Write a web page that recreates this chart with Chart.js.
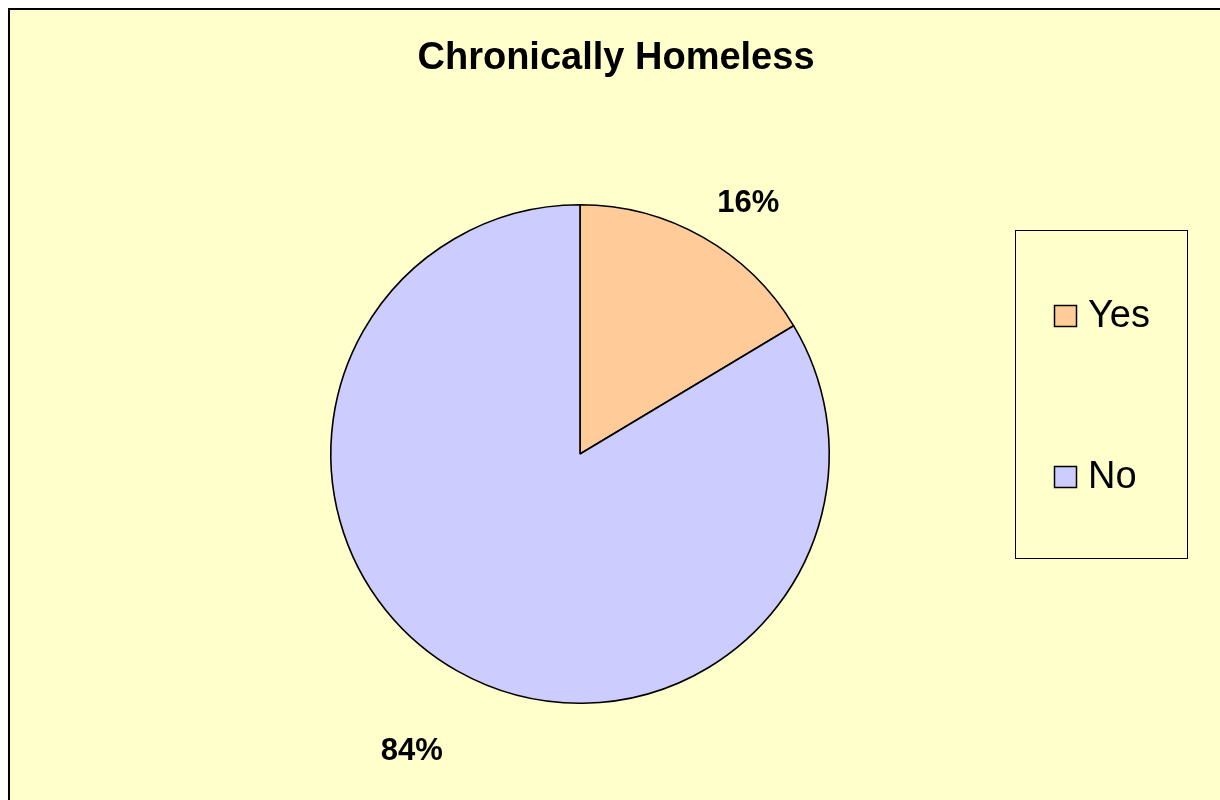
<!DOCTYPE html>
<html>
<head>
<meta charset="utf-8">
<script src="https://cdn.jsdelivr.net/npm/chart.js@4"></script>
<style>
  html, body { margin: 0; padding: 0; background: #ffffff; overflow: hidden; }
  #chart { display: block; }
</style>
</head>
<body>
<canvas id="chart" width="1220" height="800"></canvas>
<script>
const chartTitle = 'Chronically Homeless';
const categories = ['Yes', 'No'];
const shares = [16.4, 83.6];
const sliceColors = ['#FFCC99', '#CCCCFF'];

const chartCanvas = document.getElementById('chart');
const chartContext = chartCanvas.getContext('2d');
const fontFamily = '"Liberation Sans", Arial, sans-serif';

// background, frame, title, percentage labels and legend box, Excel-style
const excelLook = {
  id: 'excelLook',
  beforeDraw(chart) {
    const ctx = chart.ctx;
    ctx.save();
    ctx.fillStyle = '#FFFFCC';
    ctx.fillRect(8, 8, chart.width, chart.height);
    ctx.strokeStyle = '#000000';
    ctx.lineWidth = 2;
    ctx.beginPath();
    ctx.moveTo(9, chart.height);
    ctx.lineTo(9, 9);
    ctx.lineTo(chart.width, 9);
    ctx.stroke();

    ctx.fillStyle = '#000000';
    ctx.font = 'bold 38px ' + fontFamily;
    ctx.textAlign = 'center';
    ctx.textBaseline = 'middle';
    ctx.fillText(chartTitle, 616, 59);
    ctx.restore();
  },
  afterDraw(chart) {
    const ctx = chart.ctx;
    const meta = chart.getDatasetMeta(0);
    const area = chart.chartArea;
    ctx.save();
    ctx.fillStyle = '#000000';
    ctx.font = 'bold 31px ' + fontFamily;
    ctx.textAlign = 'center';
    ctx.textBaseline = 'middle';
    meta.data.forEach((arc, i) => {
      const mid = (arc.startAngle + arc.endAngle) / 2;
      const r = arc.outerRadius * 1.37;
      const x = arc.x + Math.cos(mid) * r;
      const y = Math.max(arc.y + Math.sin(mid) * r, area.top - 1);
      ctx.fillText(Math.round(shares[i]) + '%', x, y);
    });

    // legend
    ctx.lineWidth = 1;
    ctx.strokeStyle = '#000000';
    ctx.strokeRect(1015.5, 230.5, 172, 328);
    ctx.font = '38px ' + fontFamily;
    ctx.textAlign = 'left';
    const rowY = [316, 477];
    categories.forEach((label, i) => {
      ctx.fillStyle = sliceColors[i];
      ctx.fillRect(1054, rowY[i] - 11, 23, 22);
      ctx.lineWidth = 1.5;
      ctx.strokeRect(1054.5, rowY[i] - 10.5, 22, 21);
      ctx.fillStyle = '#000000';
      ctx.fillText(label, 1088, rowY[i] + 1);
    });
    ctx.restore();
  }
};

new Chart(chartContext, {
  type: 'pie',
  data: {
    labels: categories,
    datasets: [{
      data: shares,
      backgroundColor: sliceColors,
      borderColor: '#000000',
      borderWidth: 1.6
    }]
  },
  options: {
    responsive: false,
    animation: false,
    layout: { padding: { left: 330, right: 390, top: 204, bottom: 96 } },
    plugins: {
      legend: { display: false },
      title: { display: false },
      tooltip: { enabled: false }
    }
  },
  plugins: [excelLook]
});
</script>
</body>
</html>
